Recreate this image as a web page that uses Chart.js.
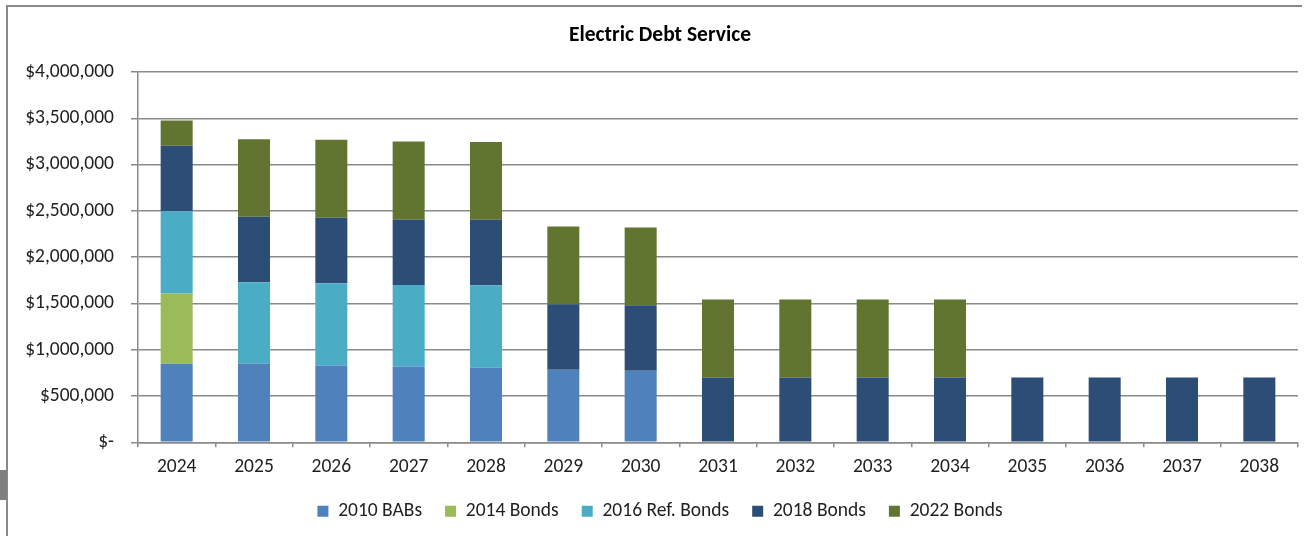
<!DOCTYPE html>
<html>
<head>
<meta charset="utf-8">
<title>Electric Debt Service</title>
<script src="https://cdn.jsdelivr.net/npm/chart.js@4.4.1/dist/chart.umd.min.js"></script>
<style>
    html, body { margin: 0; padding: 0; background: #ffffff; }
    #wrap { position: relative; width: 1304px; height: 536px; overflow: hidden; }
    #chart { position: absolute; left: 0; top: 0; }
    .frame-left { position: absolute; left: 6px; top: 5px; width: 2px; height: 540px; background: #8a8a8a; }
    .frame-top { position: absolute; left: 6px; top: 5px; width: 1296px; height: 2px; background: #8a8a8a; }
    .tab { position: absolute; left: 0; top: 470px; width: 7px; height: 30px; background: #7f7f7f; }
</style>
</head>
<body>
<div id="wrap">
    <div class="frame-left"></div>
    <div class="frame-top"></div>
    <div class="tab"></div>
    <canvas id="chart" width="1304" height="536"></canvas>
</div>
<script>
// Chart data
const years = ['2024', '2025', '2026', '2027', '2028', '2029', '2030', '2031', '2032', '2033', '2034', '2035', '2036', '2037', '2038'];
const bonds2010BABs = [848000, 852000, 830000, 819000, 805000, 783000, 772000, null, null, null, null, null, null, null, null];
const bonds2014 = [759000, null, null, null, null, null, null, null, null, null, null, null, null, null, null];
const bonds2016Ref = [889000, 877000, 888000, 880000, 891000, null, null, null, null, null, null, null, null, null, null];
const bonds2018 = [708000, 708000, 708000, 705000, 707000, 707000, 708000, 700000, 700000, 700000, 700000, 700000, 700000, 700000, 700000];
const bonds2022 = [272000, 837000, 841000, 844000, 841000, 841000, 840000, 841000, 841000, 841000, 841000, null, null, null, null];
const yTickLabels = ['$-', '$500,000', '$1,000,000', '$1,500,000', '$2,000,000', '$2,500,000', '$3,000,000', '$3,500,000', '$4,000,000'];

const fontFamily = 'Carlito, Calibri, Lato, sans-serif';
const fontSize = 19.5;
const gridColor = '#8a8a8a';
const textColor = '#1f1f1f';
const padLeft = 22; // y labels get clipped to the scale box, keep it wide enough
const legendPadding = 23;

function makeSeries(label, data, color) {
    return {
        label: label,
        data: data,
        backgroundColor: color,
        borderWidth: 0,
        categoryPercentage: 1,
        barPercentage: 0.414
    };
}

const ctx = document.getElementById('chart').getContext('2d');

new Chart(ctx, {
    type: 'bar',
    data: {
        labels: years,
        datasets: [
            makeSeries('2010 BABs', bonds2010BABs, '#4f81bd'),
            makeSeries('2014 Bonds', bonds2014, '#9bbb59'),
            makeSeries('2016 Ref. Bonds', bonds2016Ref, '#4bacc6'),
            makeSeries('2018 Bonds', bonds2018, '#2c4d75'),
            makeSeries('2022 Bonds', bonds2022, '#617530')
        ]
    },
    options: {
        responsive: false,
        animation: false,
        layout: {
            padding: { left: padLeft, right: 6, top: 0, bottom: 5 }
        },
        scales: {
            x: {
                stacked: true,
                // fixed height so the plot floor sits where the original does
                afterFit: (scale) => { scale.height = 59.25 - legendPadding; },
                grid: {
                    display: true,
                    drawOnChartArea: false,
                    drawTicks: true,
                    tickLength: 5,
                    offset: true,
                    color: gridColor,
                    lineWidth: 1.5
                },
                border: { display: true, color: gridColor, width: 1.5 },
                ticks: {
                    color: textColor,
                    padding: 8,
                    font: { family: fontFamily, size: fontSize }
                }
            },
            y: {
                stacked: true,
                min: 0,
                max: 4000000,
                afterFit: (scale) => { scale.width = 138 - padLeft; },
                grid: {
                    color: gridColor,
                    lineWidth: 1.5,
                    drawTicks: true,
                    tickLength: 7
                },
                border: { display: true, color: gridColor, width: 1.5 },
                ticks: {
                    stepSize: 500000,
                    color: textColor,
                    padding: 17,
                    font: { family: fontFamily, size: fontSize },
                    callback: (value, index) => yTickLabels[index]
                }
            }
        },
        plugins: {
            title: {
                display: true,
                text: 'Electric Debt Service',
                color: '#000000',
                font: { family: fontFamily, size: 21.5, weight: 'bold' },
                padding: { top: 23, bottom: 23.2 }
            },
            legend: {
                position: 'bottom',
                labels: {
                    boxWidth: 11,
                    boxHeight: 11,
                    padding: legendPadding,
                    color: textColor,
                    font: { family: fontFamily, size: fontSize }
                }
            },
            tooltip: { enabled: false }
        }
    }
});
</script>
</body>
</html>
